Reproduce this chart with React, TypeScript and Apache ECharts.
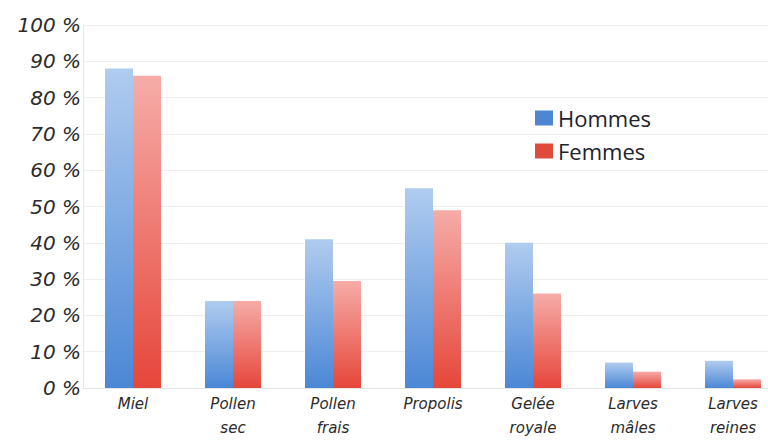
import React, { useEffect, useRef } from "react";
import * as echarts from "echarts";

const categories = ["Miel", "Pollen\nsec", "Pollen\nfrais", "Propolis", "Gelée\nroyale", "Larves\nmâles", "Larves\nreines"];
const hommes = [88, 24, 41, 55, 40, 7, 7.5];
const femmes = [86, 24, 29.5, 49, 26, 4.5, 2.4];
const seriesNames = ["Hommes", "Femmes"];

const grad = (top: string, bottom: string) =>
  new echarts.graphic.LinearGradient(0, 0, 0, 1, [
    { offset: 0, color: top },
    { offset: 1, color: bottom },
  ]);

export default function App() {
  const ref = useRef<HTMLDivElement>(null);
  useEffect(() => {
    if (!ref.current) return;
    const chart = echarts.init(ref.current, null, { renderer: "svg" });
    chart.setOption({
      animation: false,
      backgroundColor: "#ffffff",
      grid: { left: 83, top: 25, width: 700, height: 363, containLabel: false },
      legend: {
        orient: "vertical",
        left: 530,
        top: 102,
        itemWidth: 18,
        itemHeight: 15,
        itemGap: 11,
        icon: "rect",
        textStyle: { fontFamily: "Open Sans", fontSize: 22, color: "#22222e" },
        data: [
          { name: seriesNames[0], itemStyle: { color: "#4f86d0" } },
          { name: seriesNames[1], itemStyle: { color: "#e04a3a" } },
        ],
      },
      xAxis: {
        type: "category",
        data: categories,
        axisLine: { show: true, lineStyle: { color: "#e6e6e6" } },
        axisTick: { show: false },
        axisLabel: {
          interval: 0,
          margin: 4,
          fontFamily: "DejaVu Sans",
          fontStyle: "italic",
          fontSize: 15,
          lineHeight: 24,
          color: "#2a2a2a",
          verticalAlign: "top",
        },
      },
      yAxis: {
        type: "value",
        min: 0,
        max: 100,
        interval: 10,
        axisLine: { show: true, lineStyle: { color: "#e6e6e6" } },
        axisTick: { show: false },
        splitLine: { lineStyle: { color: "#efefef" } },
        axisLabel: {
          formatter: "{value} %",
          margin: 2,
          fontFamily: "DejaVu Sans",
          fontStyle: "italic",
          fontSize: 20,
          color: "#2a2a2a",
        },
      },
      series: [
        {
          name: seriesNames[0],
          type: "bar",
          data: hommes,
          barWidth: 28,
          barGap: "0%",
          itemStyle: { color: grad("#b0ccef", "#4b87d6") },
        },
        {
          name: seriesNames[1],
          type: "bar",
          data: femmes,
          barWidth: 28,
          itemStyle: { color: grad("#f6aca8", "#e6463a") },
        },
      ],
    });
    return () => chart.dispose();
  }, []);
  return (
    <div style={{ width: 768, height: 443, position: "absolute", left: 0, top: 0, overflow: "hidden" }}>
      <div ref={ref} style={{ width: 800, height: 443 }} />
    </div>
  );
}
